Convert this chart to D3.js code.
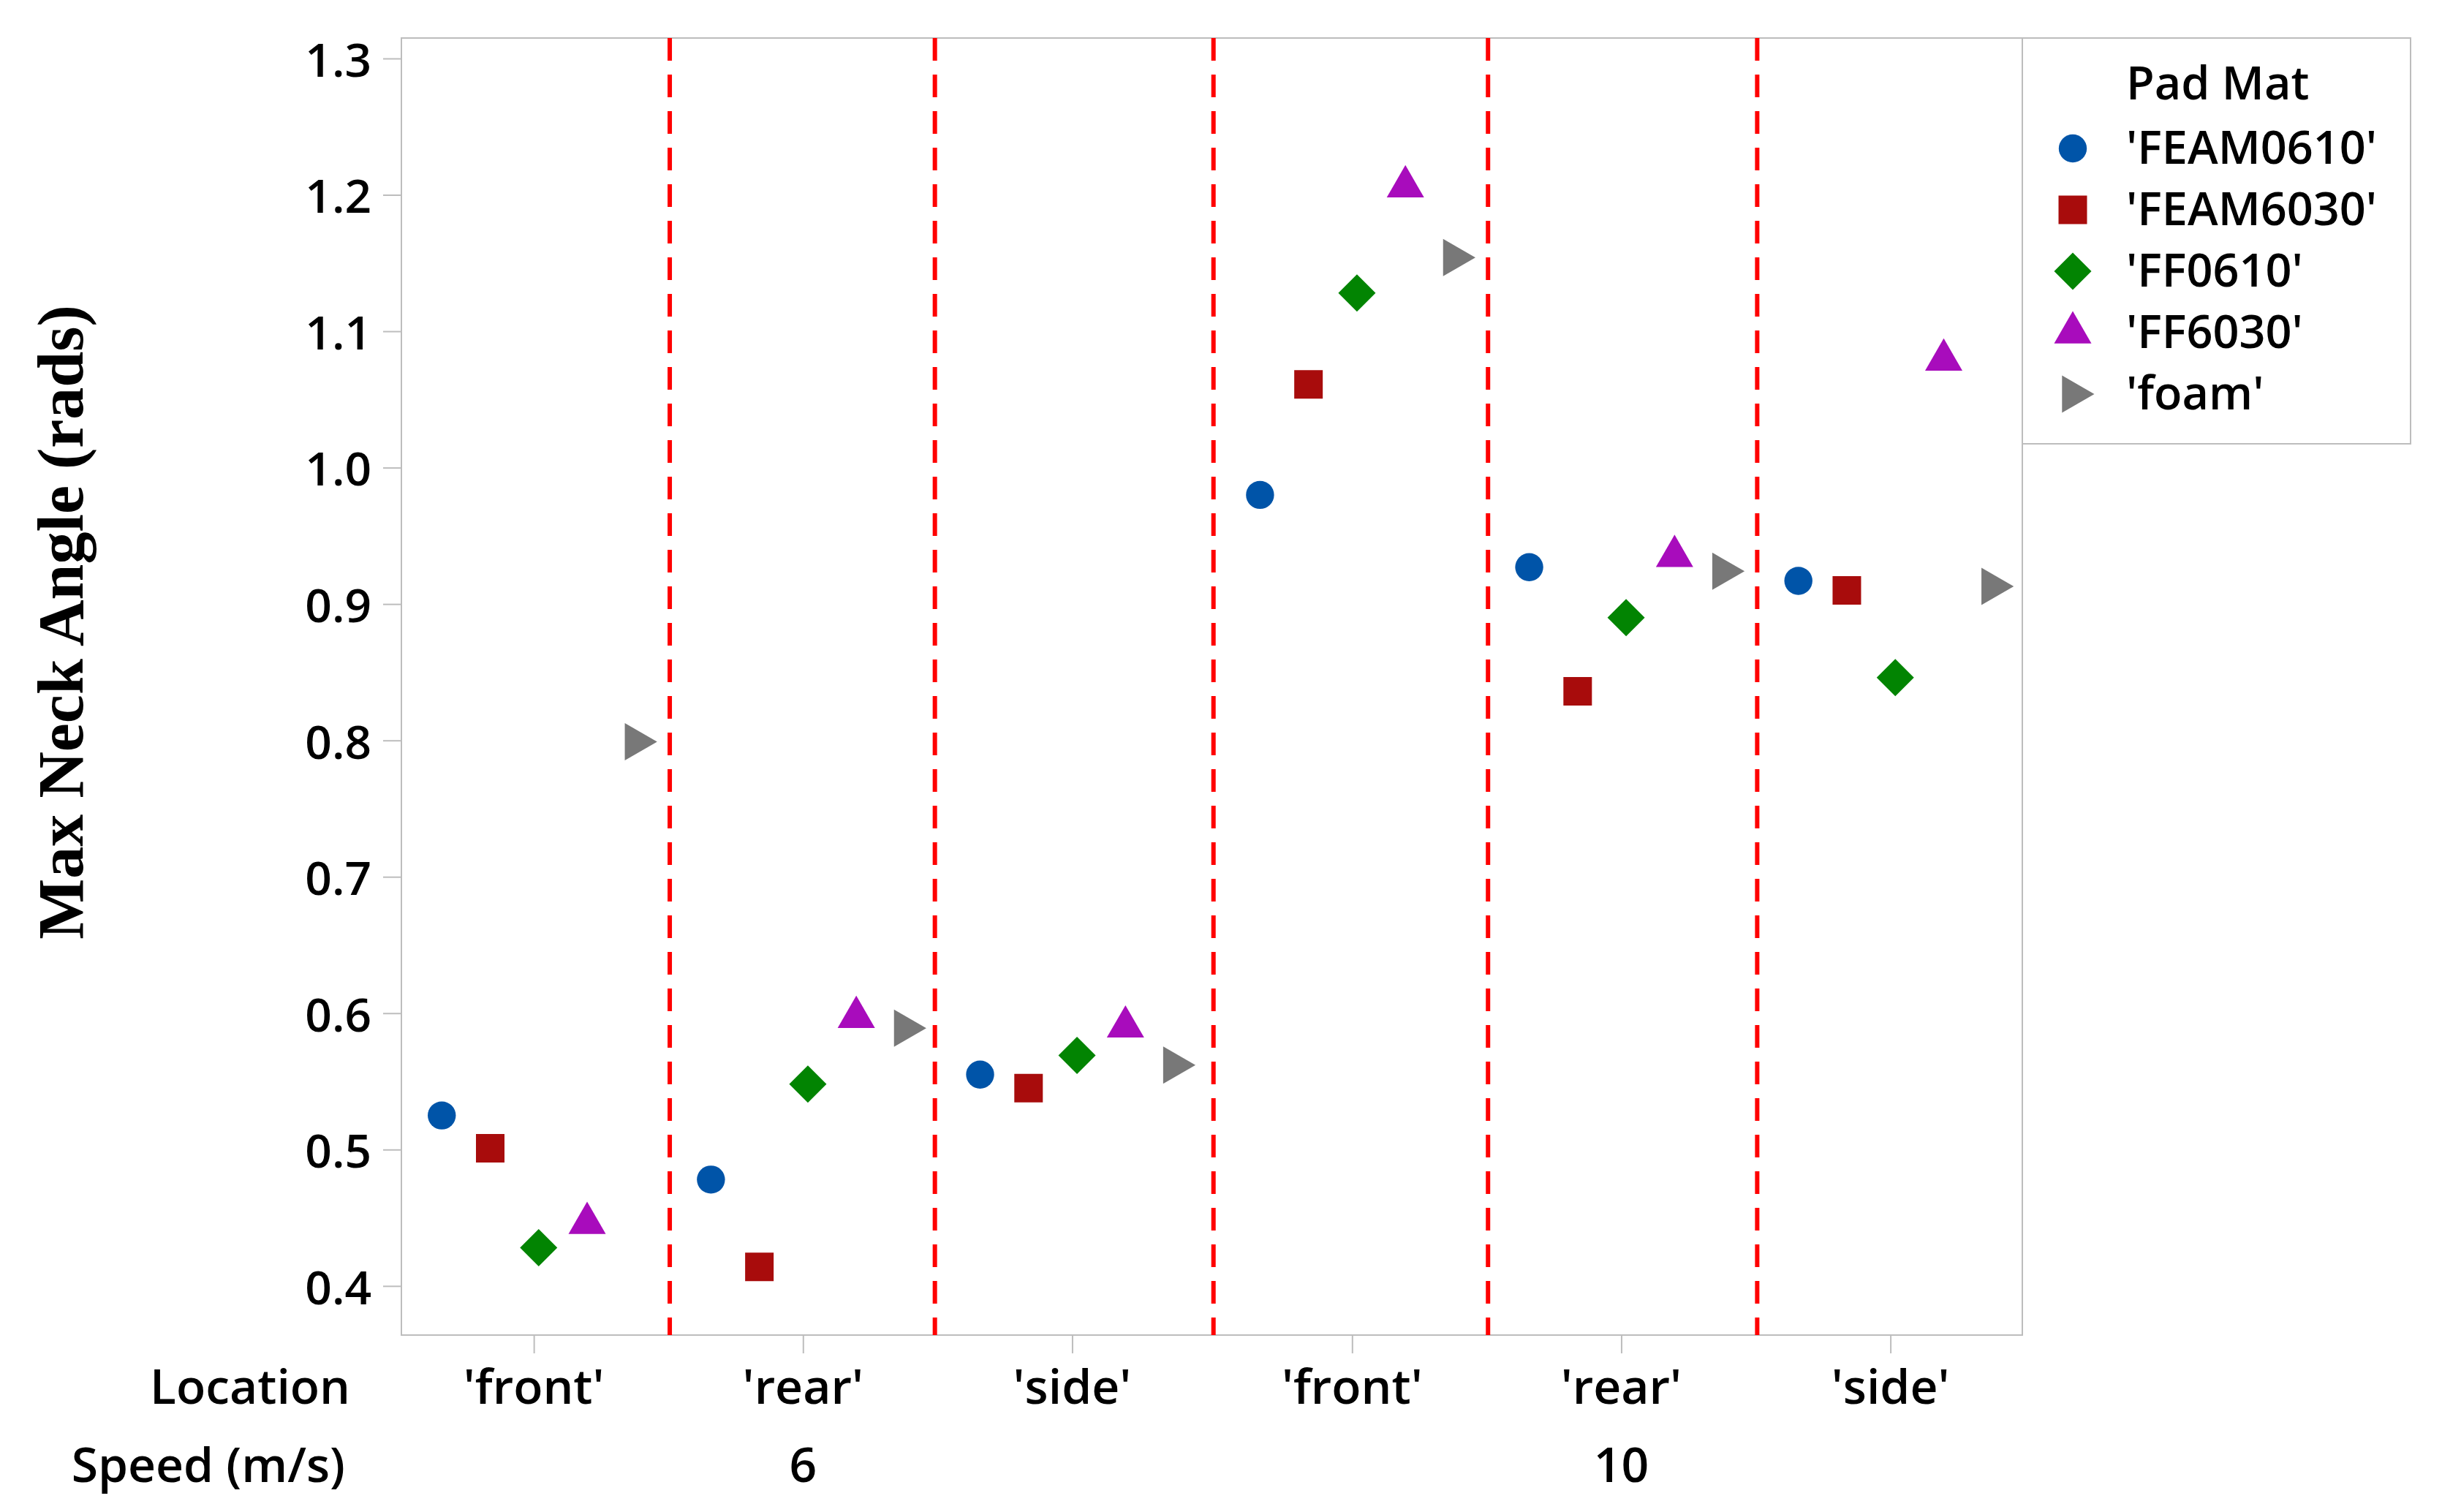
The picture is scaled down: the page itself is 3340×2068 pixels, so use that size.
<!DOCTYPE html>
<html lang="en">
<head>
    <meta charset="UTF-8">
    <title>Max Neck Angle by Location and Speed</title>
    <script src="https://d3js.org/d3.v7.min.js"></script>
    <style>
        html, body { margin: 0; padding: 0; background: #fff; }
        svg { display: block; }
    </style>
</head>
<body>
    <svg id="chart"></svg>

    <script>
        // groups on the x axis: Speed x Location
        const speeds = ["6", "10"];
        const locations = ["'front'", "'rear'", "'side'"];
        const groupPos = [1, 2, 3, 4.04, 5.04, 6.04];
        const refLines = [1.505, 2.49, 3.525, 4.545, 5.545];

        const padMats = ["'FEAM0610'", "'FEAM6030'", "'FF0610'", "'FF6030'", "'foam'"];
        const feam0610 = [0.525, 0.478, 0.555, 0.980, 0.927, 0.917];
        const feam6030 = [0.501, 0.414, 0.545, 1.061, 0.836, 0.910];
        const ff0610   = [0.428, 0.548, 0.569, 1.128, 0.890, 0.846];
        const ff6030   = [0.446, 0.597, 0.590, 1.206, 0.935, 1.079];
        const foam     = [0.799, 0.589, 0.562, 1.154, 0.924, 0.913];
        const yTicks = [0.4, 0.5, 0.6, 0.7, 0.8, 0.9, 1.0, 1.1, 1.2, 1.3];

        const seriesValues = [feam0610, feam6030, ff0610, ff6030, foam];
        const colors = ["#0054a8", "#a80c0c", "#028402", "#a80cbc", "#787878"];
        const shapes = ["circle", "square", "diamond", "triangle", "right"];

        const width = 3340;
        const height = 2068;
        const plotLeft = 549, plotRight = 2766, plotTop = 52, plotBottom = 1826;
        const gridGray = "#bdbdbd";
        const sans = "'Open Sans', 'Noto Sans', sans-serif";

        const svg = d3.select("#chart")
            .attr("width", width)
            .attr("height", height)
            .style("background", "#fff");

        const x = d3.scaleLinear().domain([0.508, 6.53]).range([plotLeft, plotRight]);
        const y = d3.scaleLinear().domain([0.364, 1.315]).range([plotBottom, plotTop]);
        const dodge = d3.scalePoint().domain(padMats).range([-0.36, 0.36]);

        function shapePath(kind) {
            switch (kind) {
                case "circle": {
                    const r = 19.2;
                    return `M${r},0A${r},${r},0,1,1,${-r},0A${r},${r},0,1,1,${r},0Z`;
                }
                case "square": {
                    const h = 19.5;
                    return `M${-h},${-h}H${h}V${h}H${-h}Z`;
                }
                case "diamond": {
                    const d = 25.5;
                    return `M0,${-d}L${d},0L0,${d}L${-d},0Z`;
                }
                case "triangle":
                    return "M0,-29.5L25.5,14.7L-25.5,14.7Z";
                default:
                    return "M29.5,0L-14.7,25.5L-14.7,-25.5Z";
            }
        }

        // rows of points
        const points = [];
        padMats.forEach((m, i) => {
            seriesValues[i].forEach((v, g) => {
                points.push({ mat: m, idx: i, group: g, value: v });
            });
        });

        // plot frame
        svg.append("rect")
            .attr("x", plotLeft).attr("y", plotTop)
            .attr("width", plotRight - plotLeft).attr("height", plotBottom - plotTop)
            .attr("fill", "none")
            .attr("stroke", gridGray)
            .attr("stroke-width", 2);

        // y axis
        const yAxis = svg.append("g")
            .attr("transform", `translate(${plotLeft},0)`)
            .call(d3.axisLeft(y).tickValues(yTicks).tickFormat(d3.format(".1f")).tickSize(25).tickPadding(16));
        yAxis.select(".domain").remove();
        yAxis.selectAll(".tick line").attr("stroke", gridGray).attr("stroke-width", 2);
        yAxis.selectAll(".tick text")
            .attr("fill", "#000")
            .attr("dy", "0.38em")
            .style("font-family", sans)
            .style("font-size", "64px")
            .style("font-weight", 600);

        // x axis ticks and labels
        const xAxis = svg.append("g")
            .attr("transform", `translate(0,${plotBottom})`)
            .call(d3.axisBottom(x).tickValues(groupPos).tickFormat(() => "").tickSize(25));
        xAxis.select(".domain").remove();
        xAxis.selectAll(".tick line").attr("stroke", gridGray).attr("stroke-width", 2);

        const textStyle = sel => sel
            .style("font-family", sans)
            .style("font-size", "66px")
            .style("font-weight", 600)
            .attr("fill", "#000");

        svg.append("g").selectAll("text")
            .data(groupPos)
            .join("text")
            .attr("x", d => x(d))
            .attr("y", 1920)
            .attr("text-anchor", "middle")
            .text((d, i) => locations[i % locations.length])
            .call(textStyle);

        svg.append("g").selectAll("text")
            .data(speeds)
            .join("text")
            .attr("x", (d, i) => x(groupPos[i * 3 + 1]))
            .attr("y", 2027)
            .attr("text-anchor", "middle")
            .text(d => d)
            .call(textStyle);

        svg.append("text")
            .attr("x", 479).attr("y", 1920)
            .attr("text-anchor", "end")
            .text("Location")
            .call(textStyle);

        svg.append("text")
            .attr("x", 472).attr("y", 2027)
            .attr("text-anchor", "end")
            .text("Speed (m/s)")
            .call(textStyle);

        // y axis title
        svg.append("text")
            .attr("transform", "translate(113,851) rotate(-90)")
            .attr("text-anchor", "middle")
            .style("font-family", "'Liberation Serif', 'DejaVu Serif', serif")
            .style("font-weight", 700)
            .style("font-size", "88px")
            .attr("fill", "#000")
            .text("Max Neck Angle (rads)");

        // red dashed reference lines between groups
        svg.append("g").selectAll("line")
            .data(refLines)
            .join("line")
            .attr("x1", d => x(d)).attr("x2", d => x(d))
            .attr("y1", plotTop).attr("y2", plotBottom)
            .attr("stroke", "#ff0000")
            .attr("stroke-width", 6)
            .attr("stroke-dasharray", "31,19");

        // points
        svg.append("g").selectAll("path")
            .data(points)
            .join("path")
            .attr("transform", d => `translate(${x(groupPos[d.group] + 0.018 + dodge(d.mat))},${y(d.value)})`)
            .attr("d", d => shapePath(shapes[d.idx]))
            .attr("fill", d => colors[d.idx]);

        // legend
        const legend = svg.append("g");
        legend.append("rect")
            .attr("x", plotRight).attr("y", plotTop)
            .attr("width", 3297 - plotRight).attr("height", 607 - plotTop)
            .attr("fill", "#fff")
            .attr("stroke", gridGray)
            .attr("stroke-width", 2);

        legend.append("text")
            .attr("x", 2908).attr("y", 136)
            .text("Pad Mat")
            .call(textStyle)
            .style("font-size", "63px");

        const item = legend.selectAll(".item")
            .data(padMats)
            .join("g")
            .attr("class", "item")
            .attr("transform", (d, i) => `translate(0,${224 + i * 84})`);

        item.append("path")
            .attr("transform", "translate(2835,-21)")
            .attr("d", (d, i) => shapePath(shapes[i]))
            .attr("fill", (d, i) => colors[i]);

        item.append("text")
            .attr("x", 2908)
            .text(d => d)
            .call(textStyle)
            .style("font-size", "63px");
    </script>
</body>
</html>
